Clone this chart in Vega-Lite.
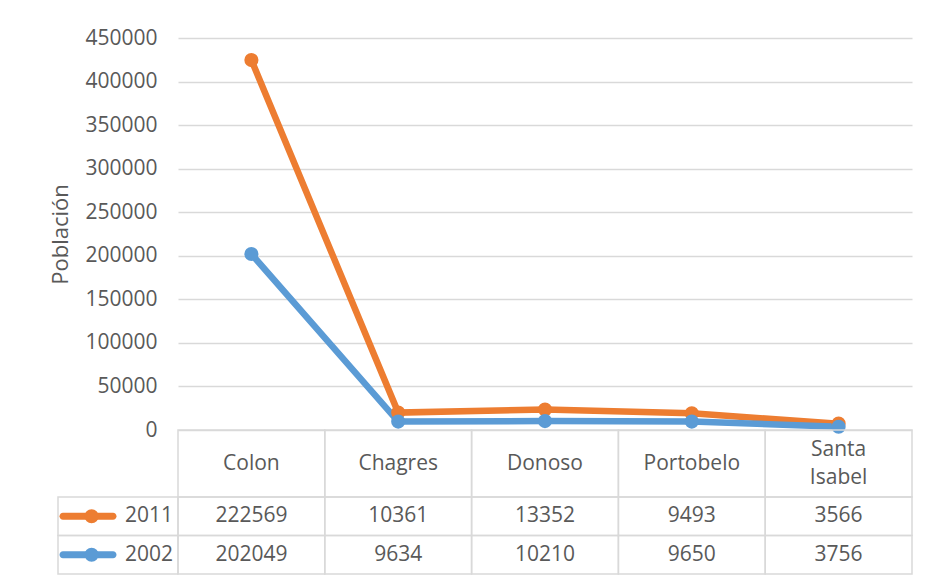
{
  "$schema": "https://vega.github.io/schema/vega-lite/v6.json",
  "background": "white",
  "padding": {"left": 49, "top": 27, "right": 0, "bottom": 0},
  "autosize": {"type": "pad"},
  "columns": 2,
  "spacing": 0,
  "bounds": "flush",
  "config": {"view": {"stroke": null}, "font": "Open Sans"},
  "datasets": {
    "pop": [
      {"cat": "Colon", "series": "2011", "value": 222569},
      {"cat": "Chagres", "series": "2011", "value": 10361},
      {"cat": "Donoso", "series": "2011", "value": 13352},
      {"cat": "Portobelo", "series": "2011", "value": 9493},
      {"cat": "Santa Isabel", "series": "2011", "value": 3566},
      {"cat": "Colon", "series": "2002", "value": 202049},
      {"cat": "Chagres", "series": "2002", "value": 9634},
      {"cat": "Donoso", "series": "2002", "value": 10210},
      {"cat": "Portobelo", "series": "2002", "value": 9650},
      {"cat": "Santa Isabel", "series": "2002", "value": 3756}
    ]
  },
  "data": {"name": "pop"},
  "concat": [
    {
      "width": 120, "height": 392,
      "data": {"values": [{}]},
      "mark": {"type": "text"},
      "encoding": {"text": {"value": ""}}
    },
    {
      "width": 734, "height": 392,
      "transform": [
        {"stack": "value", "groupby": ["cat"], "sort": [{"field": "series", "order": "ascending"}], "as": ["v0", "v1"]}
      ],
      "mark": {"type": "line", "strokeWidth": 6.5, "point": {"filled": true, "size": 200, "opacity": 1}},
      "encoding": {
        "x": {"field": "cat", "type": "nominal", "sort": ["Colon", "Chagres", "Donoso", "Portobelo", "Santa Isabel"], "scale": {"type": "point", "padding": 0.5}, "axis": null},
        "y": {
          "field": "v1", "type": "quantitative",
          "scale": {"domain": [0, 450000], "nice": false},
          "axis": {
            "title": "Población",
            "values": [0, 50000, 100000, 150000, 200000, 250000, 300000, 350000, 400000, 450000],
            "format": "d",
            "grid": true, "gridColor": "#d9d9d9", "gridWidth": 1.5,
            "domain": false, "ticks": false,
            "labelPadding": 21, "labelFontSize": 21, "labelColor": "#595959",
            "titleFontSize": 22, "titleFontWeight": "normal", "titleColor": "#595959", "titlePadding": 12
          }
        },
        "color": {"field": "series", "type": "nominal", "scale": {"domain": ["2011", "2002"], "range": ["#ED7D31", "#5B9BD5"]}, "legend": null}
      }
    },
    {
      "width": 120, "height": 67,
      "data": {"values": [{}]},
      "mark": {"type": "text"},
      "encoding": {"text": {"value": ""}}
    },
    {
      "width": 734, "height": 67,
      "transform": [{"filter": "datum.series === '2011'"}],
      "encoding": {
        "x": {"field": "cat", "type": "nominal", "sort": ["Colon", "Chagres", "Donoso", "Portobelo", "Santa Isabel"], "scale": {"type": "band", "paddingInner": 0, "paddingOuter": 0}, "axis": null}
      },
      "layer": [
        {"mark": {"type": "rect", "fill": "transparent", "stroke": "#d9d9d9", "strokeWidth": 1.5}},
        {
          "transform": [{"filter": "indexof(datum.cat, ' ') < 0"}],
          "mark": {"type": "text", "fontSize": 21, "color": "#595959"},
          "encoding": {"text": {"field": "cat"}}
        },
        {
          "transform": [{"filter": "indexof(datum.cat, ' ') >= 0"}],
          "mark": {"type": "text", "fontSize": 21, "color": "#595959", "lineBreak": " ", "lineHeight": 28, "dy": -14},
          "encoding": {"text": {"field": "cat"}}
        }
      ]
    },
    {
      "width": 120, "height": 77,
      "transform": [{"filter": "datum.cat === 'Colon'"}],
      "encoding": {
        "y": {"field": "series", "type": "nominal", "scale": {"type": "band", "domain": ["2011", "2002"], "paddingInner": 0, "paddingOuter": 0}, "axis": null}
      },
      "layer": [
        {"mark": {"type": "rect", "fill": "transparent", "stroke": "#d9d9d9", "strokeWidth": 1.5}},
        {
          "mark": {"type": "tick", "orient": "horizontal", "size": 57, "thickness": 7, "cornerRadius": 3.5, "opacity": 1},
          "encoding": {
            "x": {"datum": "sym", "type": "nominal", "bandPosition": 0.56, "scale": {"type": "band", "domain": ["sym", "lab"], "paddingInner": 0, "paddingOuter": 0}, "axis": null},
            "color": {"field": "series", "type": "nominal", "scale": {"domain": ["2011", "2002"], "range": ["#ED7D31", "#5B9BD5"]}, "legend": null}
          }
        },
        {
          "mark": {"type": "point", "filled": true, "size": 200, "opacity": 1},
          "encoding": {
            "x": {"datum": "sym", "type": "nominal", "bandPosition": 0.56, "scale": {"type": "band", "domain": ["sym", "lab"], "paddingInner": 0, "paddingOuter": 0}, "axis": null},
            "color": {"field": "series", "type": "nominal", "scale": {"domain": ["2011", "2002"], "range": ["#ED7D31", "#5B9BD5"]}, "legend": null}
          }
        },
        {
          "mark": {"type": "text", "fontSize": 21, "color": "#595959", "align": "right", "dx": 25},
          "encoding": {
            "x": {"datum": "lab", "type": "nominal", "scale": {"type": "band", "domain": ["sym", "lab"], "paddingInner": 0, "paddingOuter": 0}, "axis": null},
            "text": {"field": "series"}
          }
        }
      ]
    },
    {
      "width": 734, "height": 77,
      "encoding": {
        "x": {"field": "cat", "type": "nominal", "sort": ["Colon", "Chagres", "Donoso", "Portobelo", "Santa Isabel"], "scale": {"type": "band", "paddingInner": 0, "paddingOuter": 0}, "axis": null},
        "y": {"field": "series", "type": "nominal", "scale": {"type": "band", "domain": ["2011", "2002"], "paddingInner": 0, "paddingOuter": 0}, "axis": null}
      },
      "layer": [
        {"mark": {"type": "rect", "fill": "transparent", "stroke": "#d9d9d9", "strokeWidth": 1.5}},
        {"mark": {"type": "text", "fontSize": 21, "color": "#595959"}, "encoding": {"text": {"field": "value", "type": "quantitative", "format": "d"}}}
      ]
    }
  ]
}
